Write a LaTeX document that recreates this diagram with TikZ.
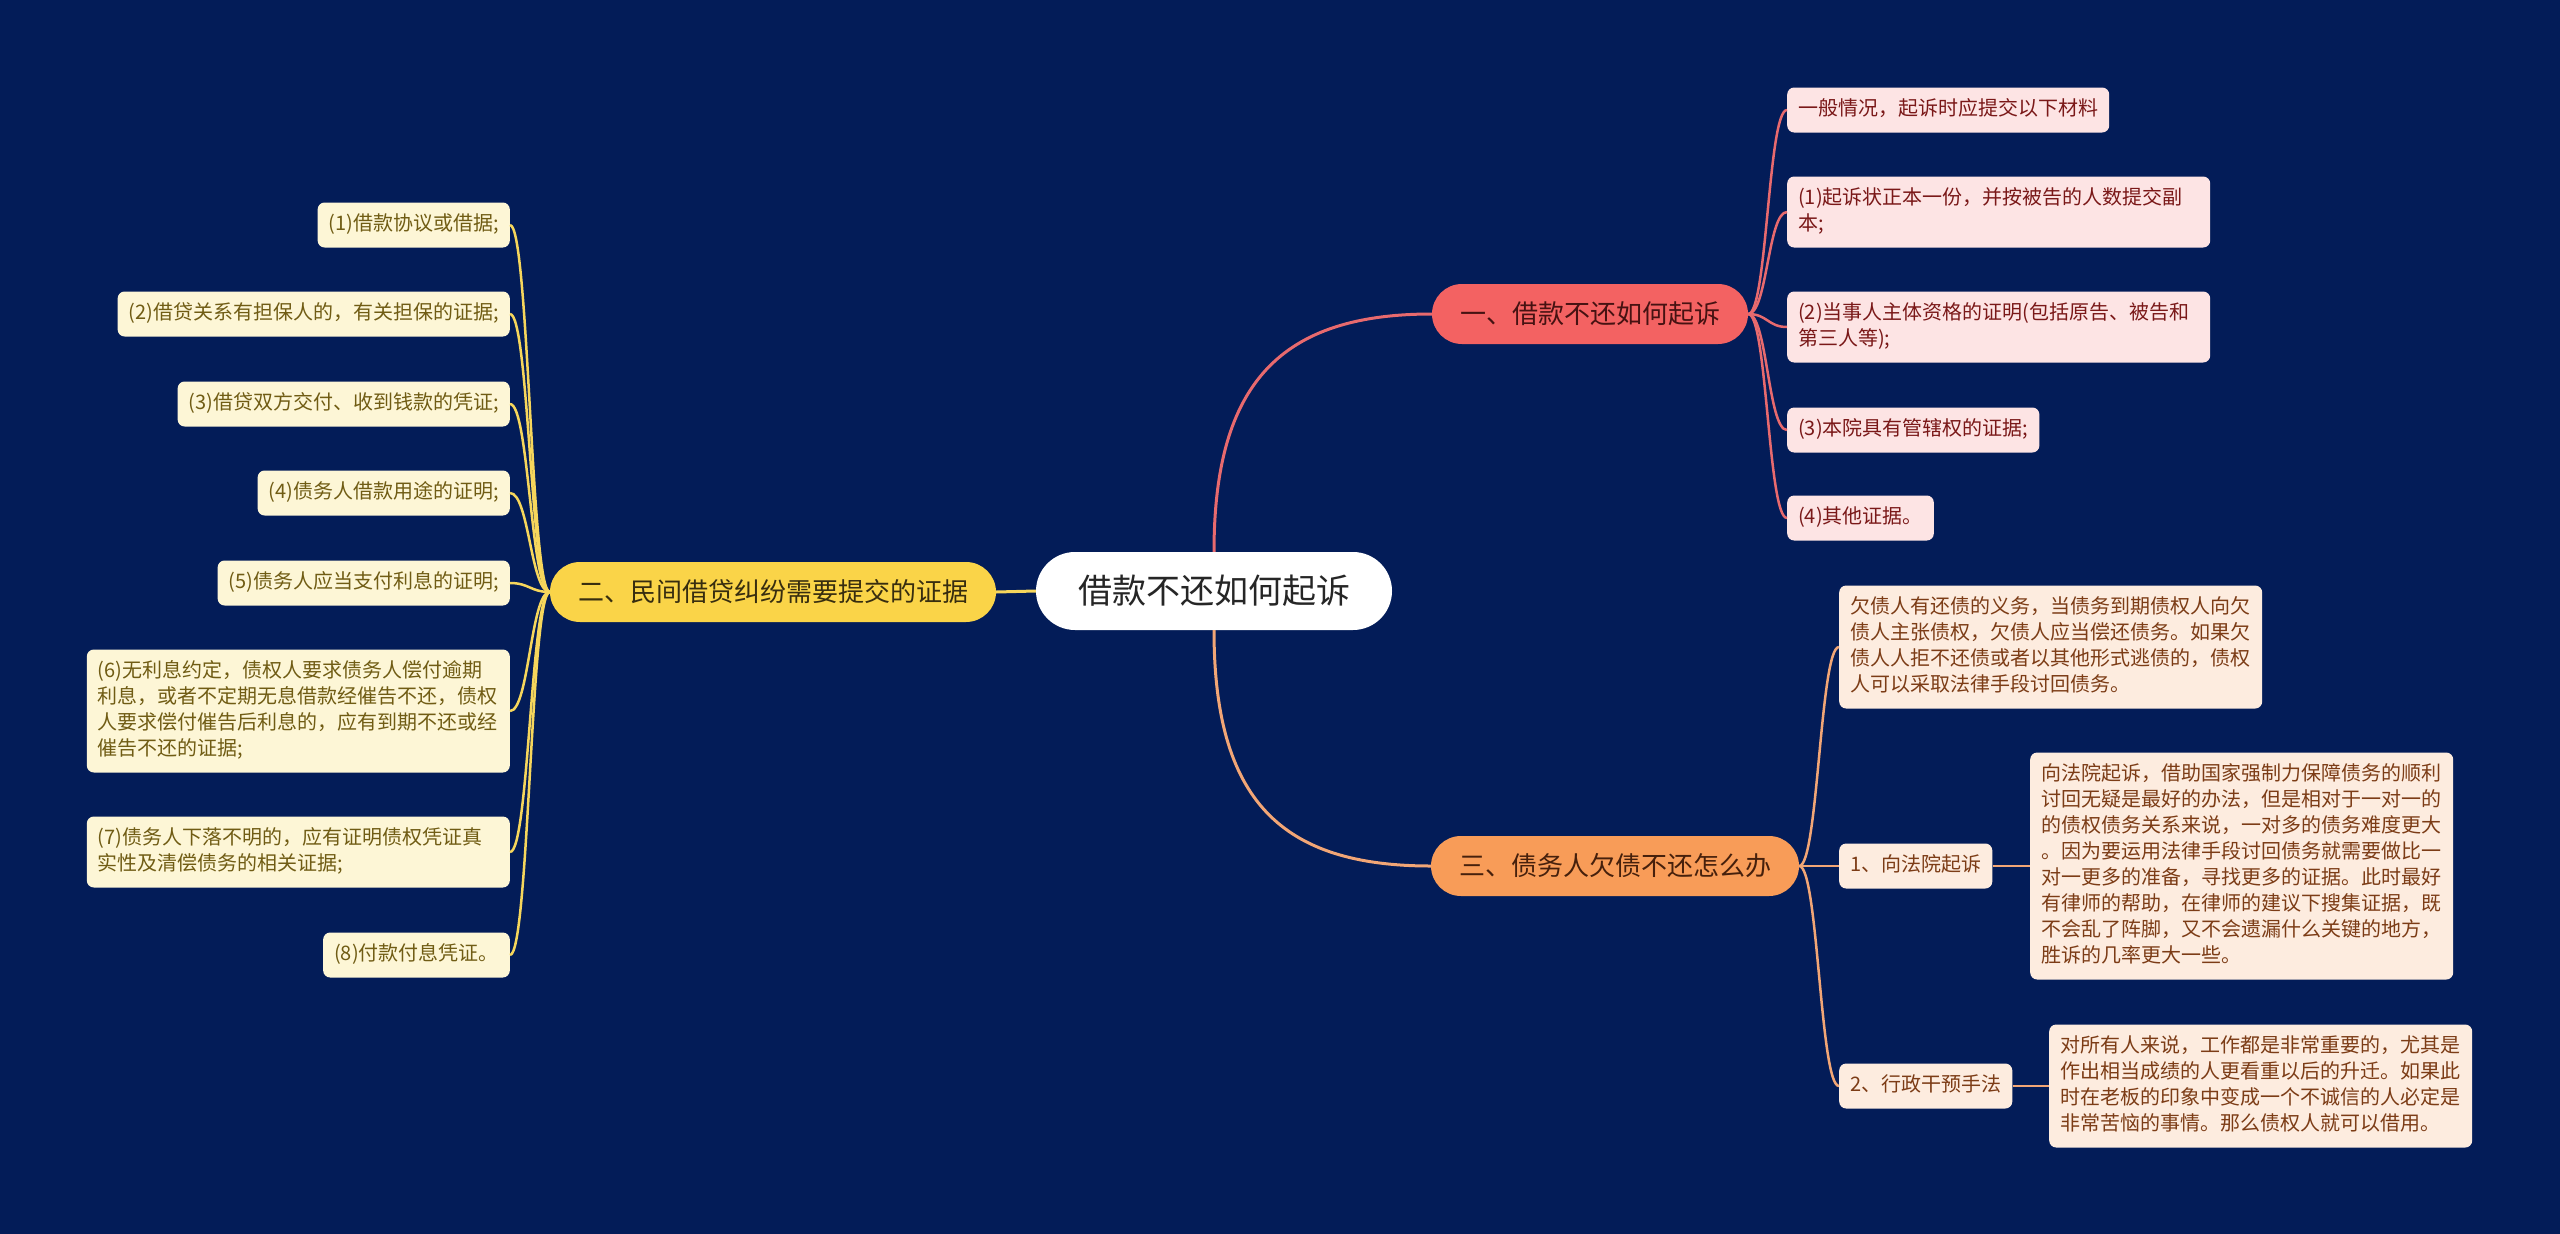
\documentclass[tikz,border=0pt]{standalone}
\usepackage{fontspec}
\setmainfont{Noto Sans CJK SC}
\usepackage{xcolor}
\usepackage{tikz}
\usetikzlibrary{shapes,arrows,positioning,calc,backgrounds}
\definecolor{mapnavy}{RGB}{3, 28, 88}
\definecolor{mapred}{RGB}{243, 98, 98}
\definecolor{mapyellow}{RGB}{250, 212, 72}
\definecolor{maporange}{RGB}{248, 156, 88}
\definecolor{linered}{RGB}{232, 106, 110}
\definecolor{lineyellow}{RGB}{246, 214, 92}
\definecolor{lineorange}{RGB}{242, 166, 118}
\definecolor{leafpink}{RGB}{253, 228, 228}
\definecolor{leafcream}{RGB}{253, 246, 214}
\definecolor{leafpeach}{RGB}{253, 236, 223}
\definecolor{textred}{RGB}{122, 24, 24}
\definecolor{textolive}{RGB}{112, 92, 20}
\definecolor{textbrown}{RGB}{124, 60, 22}

\begin{document}
\begin{tikzpicture}[x=1pt, y=-1pt,
        rootbox/.style={fill=white, text=black!85, rounded corners=39pt, minimum height=78pt, inner xsep=42pt, inner ysep=0pt, font=\fontsize{34}{40}\selectfont},
        mainbox/.style={rounded corners=30pt, minimum height=60pt, inner xsep=28pt, inner ysep=0pt, font=\fontsize{26}{32}\selectfont},
        leafbox/.style={rounded corners=7pt, inner xsep=11pt, inner ysep=9.5pt, align=left, font=\fontsize{20}{26}\selectfont, execute at begin node=\strut, execute at end node=\strut},
        wide/.style={text width=401pt},
        link/.style={line width=3pt},
        twig/.style={line width=2.5pt}
    ]
        % Root
        \node[rootbox] (root) at (1214, 591) {借款不还如何起诉};

        % Main branches
        \node[mainbox, fill=mapred, text={rgb,255:red,70;green,18;blue,18}] (one) at (1590, 314) {一、借款不还如何起诉};
        \node[mainbox, fill=mapyellow, text={rgb,255:red,55;green,45;blue,15}] (two) at (773, 592) {二、民间借贷纠纷需要提交的证据};
        \node[mainbox, fill=maporange, text={rgb,255:red,70;green,32;blue,12}] (three) at (1615, 866) {三、债务人欠债不还怎么办};

        % Branch one: materials
        \node[leafbox, fill=leafpink, text=textred, anchor=west] (general) at (1787, 110) {一般情况，起诉时应提交以下材料};
        \node[leafbox, wide, fill=leafpink, text=textred, anchor=west] (copy) at (1787, 212) {(1)起诉状正本一份，并按被告的人数提交副\\本;};
        \node[leafbox, wide, fill=leafpink, text=textred, anchor=west] (party) at (1787, 327) {(2)当事人主体资格的证明(包括原告、被告和\\第三人等);};
        \node[leafbox, fill=leafpink, text=textred, anchor=west] (court) at (1787, 430) {(3)本院具有管辖权的证据;};
        \node[leafbox, fill=leafpink, text=textred, anchor=west] (other) at (1787, 518) {(4)其他证据。};

        % Branch two: evidence
        \node[leafbox, fill=leafcream, text=textolive, anchor=east] (iou) at (510, 225) {(1)借款协议或借据;};
        \node[leafbox, fill=leafcream, text=textolive, anchor=east] (guarantee) at (510, 314) {(2)借贷关系有担保人的，有关担保的证据;};
        \node[leafbox, fill=leafcream, text=textolive, anchor=east] (payment) at (510, 404) {(3)借贷双方交付、收到钱款的凭证;};
        \node[leafbox, fill=leafcream, text=textolive, anchor=east] (usage) at (510, 493) {(4)债务人借款用途的证明;};
        \node[leafbox, fill=leafcream, text=textolive, anchor=east] (interest) at (510, 583) {(5)债务人应当支付利息的证明;};
        \node[leafbox, wide, fill=leafcream, text=textolive, anchor=east] (nointerest) at (510, 711) {(6)无利息约定，债权人要求债务人偿付逾期\\利息，或者不定期无息借款经催告不还，债权\\人要求偿付催告后利息的，应有到期不还或经\\催告不还的证据;};
        \node[leafbox, wide, fill=leafcream, text=textolive, anchor=east] (missing) at (510, 852) {(7)债务人下落不明的，应有证明债权凭证真\\实性及清偿债务的相关证据;};
        \node[leafbox, fill=leafcream, text=textolive, anchor=east] (receipt) at (510, 955) {(8)付款付息凭证。};

        % Branch three: remedies
        \node[leafbox, wide, fill=leafpeach, text=textbrown, anchor=west] (duty) at (1839, 647) {欠债人有还债的义务，当债务到期债权人向欠\\债人主张债权，欠债人应当偿还债务。如果欠\\债人人拒不还债或者以其他形式逃债的，债权\\人可以采取法律手段讨回债务。};
        \node[leafbox, fill=leafpeach, text=textbrown, anchor=west] (sue) at (1839, 866) {1、向法院起诉};
        \node[leafbox, fill=leafpeach, text=textbrown, anchor=west] (admin) at (1839, 1086) {2、行政干预手法};
        \node[leafbox, wide, fill=leafpeach, text=textbrown, anchor=west] (suetext) at (2030, 866) {向法院起诉，借助国家强制力保障债务的顺利\\讨回无疑是最好的办法，但是相对于一对一的\\的债权债务关系来说，一对多的债务难度更大\\。因为要运用法律手段讨回债务就需要做比一\\对一更多的准备，寻找更多的证据。此时最好\\有律师的帮助，在律师的建议下搜集证据，既\\不会乱了阵脚，又不会遗漏什么关键的地方，\\胜诉的几率更大一些。};
        \node[leafbox, wide, fill=leafpeach, text=textbrown, anchor=west] (admintext) at (2049, 1086) {对所有人来说，工作都是非常重要的，尤其是\\作出相当成绩的人更看重以后的升迁。如果此\\时在老板的印象中变成一个不诚信的人必定是\\非常苦恼的事情。那么债权人就可以借用。};

        % Background
        \begin{scope}[on background layer]
            \fill[mapnavy] (0, 0) rectangle (2560, 1234);
        \end{scope}

        % Connecting Lines
        \draw[link, lineyellow] (root.west) -- (two.east);
        \draw[link, linered] (root.north) .. controls +(0, -170) and +(-150, 0) .. (one.west);
        \draw[link, lineorange] (root.south) .. controls +(0, 170) and +(-150, 0) .. (three.west);

        \foreach \leaf in {general, copy, party, court, other}
            \draw[twig, linered] (one.east) .. controls +(19, 0) and +(-19, 0) .. (\leaf.west);
        \foreach \leaf in {iou, guarantee, payment, usage, interest, nointerest, missing, receipt}
            \draw[twig, lineyellow] (two.west) .. controls +(-19, 0) and +(19, 0) .. (\leaf.east);
        \foreach \leaf in {duty, sue, admin}
            \draw[twig, lineorange] (three.east) .. controls +(19, 0) and +(-19, 0) .. (\leaf.west);
        \draw[twig, lineorange] (sue.east) -- (suetext.west);
        \draw[twig, lineorange] (admin.east) -- (admintext.west);
    \end{tikzpicture}
\end{document}
